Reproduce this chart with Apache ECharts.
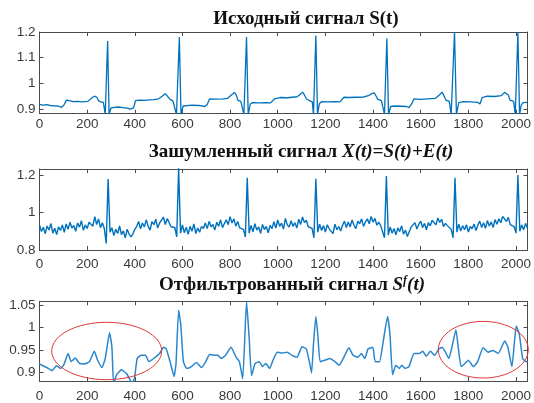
<!DOCTYPE html>
<html><head><meta charset="utf-8">
<script src="https://cdn.jsdelivr.net/npm/echarts@6/dist/echarts.min.js"></script>
<style>html,body{margin:0;padding:0;background:#fff}#c{width:534px;height:403px}</style>
</head><body><div id="c"></div>
<script>
// ---- tick labels / ranges ----
const xTicks = [0,200,400,600,800,1000,1200,1400,1600,1800,2000];
const xMax = 2048;
const yTicks1 = [0.9,1,1.1,1.2];
const yRange1 = [0.882,1.2];
const yTicks2 = [0.8,1,1.2];
const yRange2 = [0.8,1.232];
const yTicks3 = [0.9,0.95,1,1.05];
const yRange3 = [0.881,1.058];

// ---- signal S(t) : [sample, value] ----
const clean = [
[0,.918],[15,.915],[30,.917],[45,.914],[60,.913],[78,.912],[92,.907],[102,.915],[113,.935],[125,.933],[140,.929],[160,.93],[180,.928],[203,.93],[218,.942],[230,.95],[240,.947],[248,.932],[258,.928],[268,.926],[276,.879],[286,1.165],[292,.879],[300,.905],[306,.907],[330,.908],[350,.906],[369,.904],[380,.9],[387,.895],[395,.905],[403,.933],[420,.935],[440,.934],[460,.936],[480,.937],[500,.94],[515,.95],[528,.96],[536,.962],[548,.938],[560,.932],[568,.925],[575,.879],[587,1.18],[594,.879],[603,.912],[611,.916],[640,.915],[670,.914],[694,.91],[704,.918],[714,.94],[740,.939],[770,.94],[790,.942],[805,.955],[818,.965],[826,.955],[832,.935],[845,.93],[852,.925],[858,.879],[869,1.18],[876,.879],[885,.92],[894,.925],[920,.924],[950,.925],[970,.924],[978,.93],[987,.94],[1010,.945],[1040,.944],[1060,.946],[1081,.948],[1095,.958],[1104,.966],[1112,.955],[1120,.94],[1135,.932],[1145,.928],[1150,.879],[1160,1.186],[1167,.879],[1175,.922],[1185,.929],[1210,.928],[1240,.929],[1261,.928],[1268,.935],[1278,.946],[1300,.945],[1330,.946],[1360,.947],[1380,.952],[1395,.96],[1405,.963],[1412,.952],[1420,.938],[1435,.933],[1442,.928],[1448,.879],[1458,1.175],[1465,.879],[1474,.91],[1490,.912],[1520,.911],[1540,.91],[1551,.906],[1562,.92],[1572,.94],[1600,.938],[1630,.94],[1662,.942],[1678,.955],[1690,.966],[1698,.96],[1706,.935],[1720,.93],[1728,.879],[1742,1.2],[1750,.879],[1760,.925],[1780,.929],[1810,.928],[1840,.926],[1849,.92],[1858,.945],[1880,.95],[1910,.949],[1938,.952],[1952,.965],[1960,.972],[1968,.955],[1975,.935],[1990,.93],[1997,.879],[2008,1.2],[2015,.879],[2022,.915],[2030,.925],[2048,.926]
];

// ---- noisy X(t): one value every noisyStep samples, starting at 0 ----
const noisyStep = 8;
const noisy = [
.933,.899,.921,.887,.928,.907,.941,.89,.916,.882,.924,.904,.934,.894,
.939,.91,.948,.917,.931,.9,.944,.922,.956,.905,.934,.914,.948,
.953,.927,.978,.936,.966,.919,.945,
.915,.835,1.178,.895,
.919,.877,.911,.888,.928,.882,.902,.865,.911,.885,
.87,.885,.91,
.926,.952,.913,.944,.923,.961,.926,.906,.952,.935,.964,.918,.944,
.959,.976,.936,.967,.947,.924,
.93,.92,.87,1.237,.89,
.934,.892,.922,.883,.926,.9,.939,.888,.917,.895,.926,
.915,
.944,.914,.953,.924,.936,.907,.948,.927,.961,.919,.941,
.961,.935,.978,.944,.966,.927,.952,.918,
.925,.91,.87,1.185,.89,
.931,.897,.94,.906,.923,.889,.936,.909,.926,.892,.931,.914,
.951,.917,.96,.926,.943,.912,.968,.934,.922,.956,.926,.946,.917,
.964,.936,.976,.947,.959,.924,
.93,.915,.865,1.18,.895,
.938,.904,.93,.896,.935,.913,.921,.887,.938,.908,.925,.901,
.932,.954,.92,.949,.923,.96,.932,.914,.954,.94,.966,.926,.949,
.966,.94,.979,.949,.969,.932,.949,
.93,.925,.865,1.195,.88,
.923,.889,.915,.881,.918,.898,.929,.884,.906,.872,.881,.923,
.92,.946,.912,.937,.954,.92,.942,.908,.946,.929,.959,
.959,.934,.971,.947,.964,.925,.942,
.93,.92,.91,.865,1.185,.895,
.938,.901,.93,.908,.935,.896,.925,.913,.938,.904,
.933,.954,.92,.945,.916,.957,.928,.95,.92,.962,.937,.967,.945,.979,
.98,.952,.974,.935,
.935,.925,.89,1.2,.9,
.934,.908,.942,.917
];

// ---- filtered S^f(t): [sample, value] ----
const filtered = [
[0,.918],[6,.917],[30,.911],[53,.904],[71,.915],[89,.909],[103,.918],[120,.942],[133,.924],[150,.932],[168,.92],[189,.919],[210,.924],[230,.947],[244,.927],[262,.911],[276,.931],[294,.988],[304,.956],[311,.876],[324,.895],[344,.906],[366,.897],[389,.876],[399,.888],[410,.931],[427,.938],[445,.938],[459,.924],[479,.931],[504,.942],[521,.956],[532,.952],[548,.924],[565,.891],[573,.92],[584,1.038],[593,1.006],[604,.924],[618,.909],[638,.913],[659,.922],[680,.911],[698,.924],[714,.94],[735,.938],[749,.938],[763,.931],[781,.938],[804,.956],[825,.934],[839,.924],[853,.886],[869,1.058],[880,.977],[890,.893],[905,.92],[922,.924],[936,.913],[950,.92],[966,.909],[980,.927],[998,.945],[1019,.943],[1039,.945],[1060,.938],[1081,.934],[1102,.957],[1120,.952],[1134,.92],[1142,.899],[1150,.963],[1160,1.024],[1168,.985],[1178,.924],[1198,.927],[1219,.931],[1240,.924],[1258,.916],[1275,.931],[1299,.955],[1316,.938],[1337,.934],[1351,.942],[1365,.931],[1379,.952],[1399,.956],[1409,.924],[1427,.924],[1441,.963],[1461,1.024],[1471,.985],[1482,.895],[1496,.916],[1510,.909],[1521,.916],[1535,.909],[1551,.913],[1572,.942],[1593,.942],[1609,.947],[1623,.936],[1641,.947],[1659,.938],[1676,.952],[1690,.956],[1704,.945],[1718,.931],[1731,.956],[1748,.995],[1759,.949],[1770,.913],[1786,.92],[1800,.927],[1821,.913],[1839,.924],[1862,.955],[1883,.945],[1904,.949],[1925,.942],[1953,.97],[1966,.956],[1983,.913],[2001,1.003],[2014,.985],[2028,.931],[2042,.924],[2048,.925]
];

const titleTexts = [
  '{b|Исходный сигнал S(t)}',
  '{b|Зашумленный сигнал }{bi|X(t)=S(t)+E(t)}',
  '{b|Отфильтрованный сигнал }{bi|S}{sup|f}{bi|(t)}'
];

// ---- layout ----
const grids = [
  {left:39.5, top:32, width:493.5, height:81.7, labelMargin:4},
  {left:39.5, top:169, width:493.5, height:81, labelMargin:7},
  {left:39.5, top:301.3, width:493.5, height:81.7, labelMargin:8}
];
const titlePos = [[306,18.7],[301,152],[292,285.4]];
const yTicks = [yTicks1,yTicks2,yTicks3];
const yRanges = [yRange1,yRange2,yRange3];

const axisCol = '#4a4a4a';
const labelCol = '#3a3a3a';
const labelFont = {fontFamily:'Liberation Sans', fontSize:13.5, color:labelCol};
const fmt = v => String(Math.round(v*1000)/1000);

const xAxes = [], yAxes = [];
grids.forEach((g,i)=>{
  ['bottom','top'].forEach(pos=>{
    xAxes.push({type:'value', gridIndex:i, position:pos, min:0, max:xMax,
      axisLine:{show:true, onZero:false, lineStyle:{color:axisCol, width:1}},
      axisTick:{show:true, inside:true, length:4, customValues:xTicks, lineStyle:{color:axisCol}},
      axisLabel:{show:pos==='bottom', customValues:xTicks, margin:g.labelMargin, formatter:fmt, ...labelFont},
      splitLine:{show:false}});
  });
  ['left','right'].forEach(pos=>{
    yAxes.push({type:'value', gridIndex:i, position:pos, min:yRanges[i][0], max:yRanges[i][1],
      axisLine:{show:true, onZero:false, lineStyle:{color:axisCol, width:1}},
      axisTick:{show:true, inside:true, length:4, customValues:yTicks[i], lineStyle:{color:axisCol}},
      axisLabel:{show:pos==='left', customValues:yTicks[i], margin:4, formatter:fmt, ...labelFont},
      splitLine:{show:false}});
  });
});

const noisyData = noisy.map((v,k)=>[k*noisyStep, v]);

const serif = 'Liberation Serif';
const rich = {
  b:{fontFamily:serif, fontWeight:'bold', fontSize:19, fill:'#111'},
  bi:{fontFamily:serif, fontWeight:'bold', fontStyle:'italic', fontSize:19, fill:'#111'},
  sup:{fontFamily:serif, fontWeight:'bold', fontStyle:'italic', fontSize:12, fill:'#111', verticalAlign:'top', padding:[0,0,9,0]}
};

const chart = echarts.init(document.getElementById('c'), null, {renderer:'canvas'});
chart.setOption({
  animation:false,
  backgroundColor:'#fff',
  grid: grids.map(g=>({left:g.left, top:g.top, width:g.width, height:g.height, containLabel:false})),
  xAxis: xAxes,
  yAxis: yAxes,
  series: [
    {type:'line', xAxisIndex:0, yAxisIndex:0, data:clean, showSymbol:false, clip:true,
      lineStyle:{color:'#0072BD', width:1.3}},
    {type:'line', xAxisIndex:2, yAxisIndex:2, data:noisyData, showSymbol:false, clip:true,
      lineStyle:{color:'#0072BD', width:1.4}},
    {type:'line', xAxisIndex:4, yAxisIndex:4, data:filtered, showSymbol:false, clip:true, smooth:0.15,
      lineStyle:{color:'#2a86cc', width:1.5}}
  ],
  graphic: [
    ...titleTexts.map((t,i)=>({type:'text', x:titlePos[i][0], y:titlePos[i][1],
      style:{text:t, rich:rich, textAlign:'center', textVerticalAlign:'middle'}})),
    {type:'ellipse', shape:{cx:106.7, cy:351, rx:55, ry:28.7},
      style:{fill:null, stroke:'#e0383a', lineWidth:1}, z:100},
    {type:'ellipse', shape:{cx:483.3, cy:349.7, rx:45, ry:28.3},
      style:{fill:null, stroke:'#e0383a', lineWidth:1}, z:100}
  ]
});
</script></body></html>
